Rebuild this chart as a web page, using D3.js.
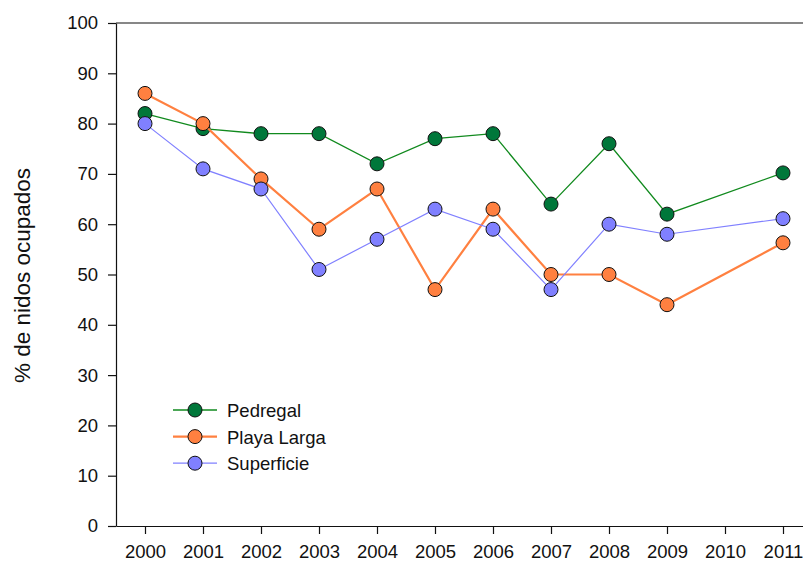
<!DOCTYPE html>
<html>
<head>
<meta charset="utf-8">
<script src="https://cdn.jsdelivr.net/npm/d3@7"></script>
<style>
  html, body { margin: 0; padding: 0; background: #fff; }
  svg { display: block; }
  text { font-family: "Liberation Sans", Arial, sans-serif; fill: #111; }
</style>
</head>
<body>
<svg id="chart" width="803" height="562"></svg>
<script>
// Years surveyed (2010 has no data)
const years = [2000, 2001, 2002, 2003, 2004, 2005, 2006, 2007, 2008, 2009, 2011];
const xTicks = [2000, 2001, 2002, 2003, 2004, 2005, 2006, 2007, 2008, 2009, 2010, 2011];
const yTicks = [0, 10, 20, 30, 40, 50, 60, 70, 80, 90, 100];

// % of occupied nests per colony
const pedregal   = [82, 79, 78, 78, 72, 77, 78, 64, 76, 62, 70.2];
const playaLarga = [86, 80, 69, 59, 67, 47, 63, 50, 50, 44, 56.3];
const superficie = [80, 71, 67, 51, 57, 63, 59, 47, 60, 58, 61.1];

const seriesNames = ["Pedregal", "Playa Larga", "Superficie"];
const seriesData = [pedregal, playaLarga, superficie];
const lineColors = ["#118a1e", "#ff8040", "#8080ff"];
const fillColors = ["#00773a", "#ff8040", "#8080ff"];
const lineWidths = [1.3, 2.2, 1.2];

const svg = d3.select("#chart");
const plotLeft = 116, plotTop = 23, plotBottom = 526, plotRight = 812;
const tickFont = 18.5;

const x = d3.scaleLinear().domain([1999.5, 2011.5]).range([plotLeft, plotRight]);
const y = d3.scaleLinear().domain([0, 100]).range([plotBottom, plotTop]);

// Top frame line
svg.append("line")
  .attr("x1", plotLeft).attr("x2", plotRight)
  .attr("y1", plotTop).attr("y2", plotTop)
  .attr("stroke", "#111").attr("stroke-width", 1.2);

// Y axis
const yAxis = svg.append("g")
  .attr("transform", `translate(${plotLeft},0)`)
  .call(d3.axisLeft(y).tickValues(yTicks).tickSize(8).tickPadding(10).tickSizeOuter(0));
yAxis.select(".domain").attr("stroke", "#111").attr("stroke-width", 1.2);
yAxis.selectAll(".tick line").attr("stroke", "#111").attr("stroke-width", 1.2);
yAxis.selectAll(".tick text").attr("font-size", tickFont).attr("font-family", "Liberation Sans, Arial, sans-serif").attr("fill", "#111");

// X axis
const xAxis = svg.append("g")
  .attr("transform", `translate(0,${plotBottom})`)
  .call(d3.axisBottom(x).tickValues(xTicks).tickFormat(d3.format("d")).tickSize(8).tickPadding(11).tickSizeOuter(0));
xAxis.select(".domain").attr("stroke", "#111").attr("stroke-width", 1.2);
xAxis.selectAll(".tick line").attr("stroke", "#111").attr("stroke-width", 1.2);
xAxis.selectAll(".tick text").attr("font-size", tickFont).attr("font-family", "Liberation Sans, Arial, sans-serif").attr("fill", "#111");

// Y axis title
svg.append("text")
  .attr("transform", "translate(30,275.5) rotate(-90)")
  .attr("text-anchor", "middle")
  .attr("font-size", 22.5)
  .text("% de nidos ocupados");

// Series: line then markers
const line = d3.line().x((d, i) => x(years[i])).y(d => y(d));
seriesData.forEach((vals, s) => {
  const g = svg.append("g");
  g.append("path")
    .datum(vals)
    .attr("d", line)
    .attr("fill", "none")
    .attr("stroke", lineColors[s])
    .attr("stroke-width", lineWidths[s]);
  g.selectAll("circle")
    .data(vals)
    .join("circle")
    .attr("cx", (d, i) => x(years[i]))
    .attr("cy", d => y(d))
    .attr("r", 7)
    .attr("fill", fillColors[s])
    .attr("stroke", "#111")
    .attr("stroke-width", 1);
});

// Legend
const legend = svg.append("g").attr("transform", "translate(173,410)");
seriesNames.forEach((name, s) => {
  const row = legend.append("g").attr("transform", `translate(0,${s * 26.6})`);
  row.append("line")
    .attr("x1", 0).attr("x2", 44)
    .attr("stroke", lineColors[s]).attr("stroke-width", lineWidths[s]);
  row.append("circle")
    .attr("cx", 22).attr("cy", 0).attr("r", 7)
    .attr("fill", fillColors[s]).attr("stroke", "#111").attr("stroke-width", 1);
  row.append("text")
    .attr("x", 54).attr("y", 7)
    .attr("font-size", 18.5)
    .text(name);
});
</script>
</body>
</html>
